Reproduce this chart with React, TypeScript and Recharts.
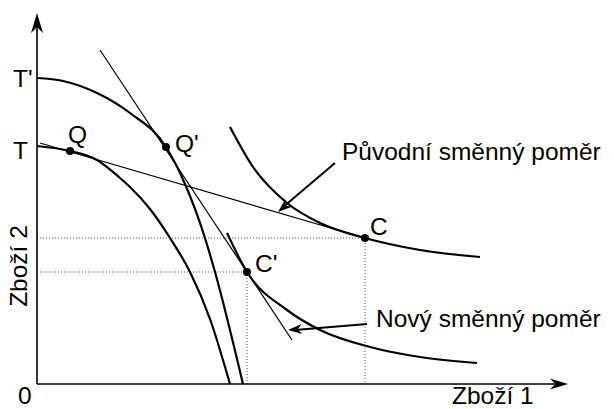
import React from 'react';
import { ComposedChart, Line, Scatter, XAxis, YAxis } from 'recharts';

type P = { x: number; y: number };

// Production possibility frontiers (x = Zboží 1, y = Zboží 2)
const ppfT: P[] = [
  { x: 0, y: 238 }, { x: 33, y: 233 }, { x: 60, y: 224 }, { x: 83, y: 206 },
  { x: 93, y: 197 }, { x: 113, y: 175 }, { x: 133, y: 146 }, { x: 153, y: 112 },
  { x: 173, y: 65 }, { x: 193, y: 0 },
];
const ppfT2: P[] = [
  { x: 0, y: 306 }, { x: 26, y: 303 }, { x: 60, y: 291 }, { x: 93, y: 271 },
  { x: 129, y: 237 }, { x: 148, y: 200 }, { x: 168, y: 146 }, { x: 178, y: 112 },
  { x: 206, y: 0 },
];
// Indifference curves
const icHigh: P[] = [
  { x: 193, y: 257 }, { x: 216, y: 217 }, { x: 250, y: 181 }, { x: 283, y: 161 },
  { x: 328, y: 146 }, { x: 383, y: 134 }, { x: 443, y: 127 },
];
const icLow: P[] = [
  { x: 190, y: 151 }, { x: 210, y: 112 }, { x: 250, y: 74 }, { x: 283, y: 54 },
  { x: 333, y: 37 }, { x: 383, y: 27 }, { x: 440, y: 21 },
];
// Terms-of-trade lines
const oldRatio: P[] = [{ x: 3, y: 241 }, { x: 328, y: 146 }];
const newRatio: P[] = [{ x: 63, y: 334 }, { x: 255, y: 44 }];
// Points
const points = [
  { x: 33, y: 233, name: 'Q' },
  { x: 129, y: 237, name: "Q'" },
  { x: 328, y: 146, name: 'C' },
  { x: 210, y: 112, name: "C'" },
];
// Dotted guides
const guideC1: P[] = [{ x: 0, y: 146 }, { x: 328, y: 146 }, { x: 328, y: 0 }];
const guideC2: P[] = [{ x: 0, y: 112 }, { x: 210, y: 112 }, { x: 210, y: 0 }];
// Axes
const yAxisLine: P[] = [{ x: 0, y: 0 }, { x: 0, y: 362 }];
const xAxisLine: P[] = [{ x: 0, y: 0 }, { x: 522, y: 0 }];
// Annotation arrows
const arrowOld: P[] = [{ x: 298, y: 221 }, { x: 245, y: 176 }];
const arrowNew: P[] = [{ x: 330, y: 60 }, { x: 258, y: 54 }];
const arrowHeads = [
  { x: 0, y: 371, fromX: 0, fromY: 0, len: 20, half: 6 },
  { x: 531, y: 0, fromX: 0, fromY: 0, len: 18, half: 5.5 },
  { x: 241, y: 172, fromX: 298, fromY: 221, len: 14, half: 5 },
  { x: 251, y: 54, fromX: 330, fromY: 60, len: 14, half: 5 },
];
// Labels
const labels = [
  { x: -24, y: 297, text: "T'", anchor: 'start', rot: 0 },
  { x: -24, y: 225, text: 'T', anchor: 'start', rot: 0 },
  { x: 31, y: 241, text: 'Q', anchor: 'start', rot: 0 },
  { x: 138, y: 232, text: "Q'", anchor: 'start', rot: 0 },
  { x: 333, y: 149, text: 'C', anchor: 'start', rot: 0 },
  { x: 218, y: 112, text: "C'", anchor: 'start', rot: 0 },
  { x: -19, y: -20, text: '0', anchor: 'start', rot: 0 },
  { x: 415, y: -20, text: 'Zboží 1', anchor: 'start', rot: 0 },
  { x: -10, y: 118, text: 'Zboží 2', anchor: 'middle', rot: -90 },
  { x: 305, y: 224, text: 'Původní směnný poměr', anchor: 'start', rot: 0 },
  { x: 339, y: 57, text: 'Nový směnný poměr', anchor: 'start', rot: 0 },
];

const FONT = '"Liberation Sans", Arial, sans-serif';

const ArrowShape = (props: any) => {
  const { cx, cy, payload } = props;
  const dx = payload.x - payload.fromX;
  const dy = -(payload.y - payload.fromY);
  const ang = (Math.atan2(dy, dx) * 180) / Math.PI;
  const L = payload.len;
  const w = payload.half;
  return (
    <polygon
      points={`0,0 ${-L},${-w} ${-L * 0.7},0 ${-L},${w}`}
      transform={`translate(${cx},${cy}) rotate(${ang})`}
      fill="#000"
    />
  );
};

const DotShape = (props: any) => <circle cx={props.cx} cy={props.cy} r={4} fill="#000" />;

const LabelShape = (props: any) => {
  const { cx, cy, payload } = props;
  return (
    <text
      x={cx}
      y={cy}
      textAnchor={payload.anchor}
      fontFamily={FONT}
      fontSize={24.5}
      fill="#000"
      transform={payload.rot ? `rotate(${payload.rot}, ${cx}, ${cy})` : undefined}
    >
      {payload.text}
    </text>
  );
};

const thick = { stroke: '#000', strokeWidth: 2.2, dot: false, isAnimationActive: false, type: 'monotone' as const };
const thin = { stroke: '#000', strokeWidth: 1.2, dot: false, isAnimationActive: false, type: 'linear' as const };
const dotted = { stroke: '#555', strokeWidth: 1, strokeDasharray: '1 2', dot: false, isAnimationActive: false, type: 'linear' as const };

export default function App() {
  return (
    <div style={{ position: 'absolute', left: 0, top: 0, background: '#fff' }}>
      <ComposedChart width={614} height={409} margin={{ top: 0, right: 0, bottom: 0, left: 0 }}>
        <XAxis type="number" dataKey="x" domain={[-37, 577]} allowDataOverflow hide />
        <YAxis type="number" dataKey="y" domain={[-25, 384]} allowDataOverflow hide />
        <Line data={guideC1} dataKey="y" {...dotted} />
        <Line data={guideC2} dataKey="y" {...dotted} />
        <Line data={yAxisLine} dataKey="y" {...thin} strokeWidth={1.6} />
        <Line data={xAxisLine} dataKey="y" {...thin} strokeWidth={1.6} />
        <Line data={oldRatio} dataKey="y" {...thin} />
        <Line data={newRatio} dataKey="y" {...thin} />
        <Line data={ppfT} dataKey="y" {...thick} />
        <Line data={ppfT2} dataKey="y" {...thick} />
        <Line data={icHigh} dataKey="y" {...thick} />
        <Line data={icLow} dataKey="y" {...thick} />
        <Line data={arrowOld} dataKey="y" {...thin} strokeWidth={2} />
        <Line data={arrowNew} dataKey="y" {...thin} strokeWidth={2} />
        <Scatter data={arrowHeads} dataKey="y" shape={ArrowShape} isAnimationActive={false} />
        <Scatter data={points} dataKey="y" shape={DotShape} isAnimationActive={false} />
        <Scatter data={labels} dataKey="y" shape={LabelShape} isAnimationActive={false} />
      </ComposedChart>
    </div>
  );
}
